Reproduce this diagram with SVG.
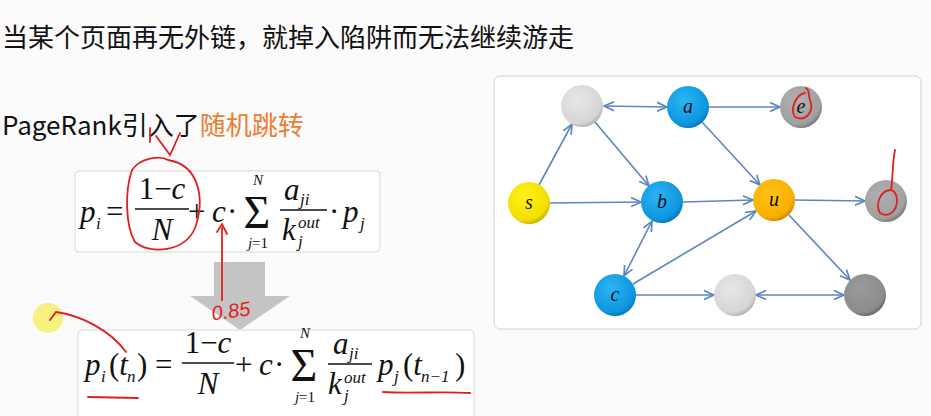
<svg xmlns="http://www.w3.org/2000/svg" width="931" height="416" viewBox="0 0 931 416">
<style>
.t{font-family:"Noto Sans CJK SC","Noto Sans",sans-serif;font-size:26px;fill:#111}
.m{font-family:"Liberation Serif",serif;font-size:31px;fill:#111}
.i{font-style:italic}
.s{font-size:17px}
.xs{font-size:15px}
.e{stroke:#5b86c2;stroke-width:1.6;fill:none;marker-end:url(#ah)}
.b{marker-start:url(#ahs)}
.fl{stroke:#111;stroke-width:1.5}
.lab{font-family:"Liberation Serif",serif;font-style:italic;font-size:20px;fill:#111;text-anchor:middle}
.red{stroke:#e02020;stroke-width:1.8;fill:none;stroke-linecap:round}
</style>
<defs>
<marker id="ah" viewBox="0 0 10 10" refX="9" refY="5" markerWidth="7" markerHeight="7" orient="auto"><path d="M0,1 L9,5 L0,9" fill="none" stroke="#5b86c2" stroke-width="1.5"/></marker>
<marker id="ahs" viewBox="0 0 10 10" refX="1" refY="5" markerWidth="7" markerHeight="7" orient="auto"><path d="M10,1 L1,5 L10,9" fill="none" stroke="#5b86c2" stroke-width="1.5"/></marker>
<radialGradient id="gb" cx="40%" cy="35%" r="70%"><stop offset="0" stop-color="#2eb4f5"/><stop offset="0.8" stop-color="#0c96de"/><stop offset="1" stop-color="#0a6fa8"/></radialGradient>
<radialGradient id="gy" cx="40%" cy="35%" r="70%"><stop offset="0" stop-color="#fff21a"/><stop offset="0.8" stop-color="#f2de00"/><stop offset="1" stop-color="#b8a800"/></radialGradient>
<radialGradient id="go" cx="40%" cy="35%" r="70%"><stop offset="0" stop-color="#ffc21a"/><stop offset="0.8" stop-color="#f9ae00"/><stop offset="1" stop-color="#c08000"/></radialGradient>
<radialGradient id="gl" cx="40%" cy="35%" r="70%"><stop offset="0" stop-color="#e6e6e6"/><stop offset="0.8" stop-color="#d6d6d6"/><stop offset="1" stop-color="#a8a8a8"/></radialGradient>
<radialGradient id="gm" cx="40%" cy="35%" r="70%"><stop offset="0" stop-color="#b0b0b0"/><stop offset="0.8" stop-color="#a0a0a0"/><stop offset="1" stop-color="#707070"/></radialGradient>
<radialGradient id="gd" cx="40%" cy="35%" r="70%"><stop offset="0" stop-color="#9a9a9a"/><stop offset="0.8" stop-color="#8c8c8c"/><stop offset="1" stop-color="#5e5e5e"/></radialGradient>
</defs>
<rect width="931" height="416" fill="#fbfbfb"/>
<text class="t" x="2" y="47">当某个页面再无外链，就掉入陷阱而无法继续游走</text>
<text class="t" x="2" y="135">PageRank引入了<tspan fill="#ed7d31">随机跳转</tspan></text>

<g id="formula1">
<rect x="75" y="171" width="305" height="81" rx="4" fill="#fff" stroke="#d8d8d8"/>
<text class="m i" x="80" y="222">p</text><text class="m i s" x="96" y="229">i</text>
<text class="m" x="106" y="222">=</text>
<text class="m" x="162" y="199" text-anchor="middle">1−<tspan class="i">c</tspan></text>
<line class="fl" x1="135" y1="209" x2="189" y2="209"/>
<text class="m i" x="162" y="240" text-anchor="middle">N</text>
<text class="m" x="188" y="222">+</text>
<text class="m i" x="212" y="222">c</text>
<text class="m" x="227" y="222">·</text>
<text x="257" y="228" text-anchor="middle" style="font-family:'Liberation Serif',serif;font-size:46px;fill:#111">Σ</text>
<text class="m i xs" x="258" y="185" text-anchor="middle">N</text>
<text class="m xs" x="258" y="248" text-anchor="middle"><tspan class="i">j</tspan>=1</text>
<text class="m i" x="284" y="200">a</text><text class="m i s" x="300" y="205">ji</text>
<line class="fl" x1="280" y1="210" x2="327" y2="210"/>
<text class="m i" x="282" y="240">k</text><text class="m i s" x="298" y="228">out</text><text class="m i s" x="298" y="247">j</text>
<text class="m" x="329" y="222">·</text>
<text class="m i" x="343" y="222">p</text><text class="m i s" x="360" y="229">j</text>
</g>

<g id="arrow">
<rect x="214" y="262" width="51" height="35" fill="#c4c4c4"/>
<polygon points="190,296 290,296 240,330" fill="#c4c4c4"/>
</g>

<g id="formula2">
<rect x="78" y="330" width="396" height="90" rx="4" fill="#fff" stroke="#d8d8d8"/>
<text class="m i" x="85" y="375">p</text><text class="m i s" x="101" y="382">i</text>
<text class="m" x="109" y="375">(<tspan class="i">t</tspan></text><text class="m i s" x="127" y="382">n</text><text class="m" x="137" y="375">)</text>
<text class="m" x="155" y="375">=</text>
<text class="m" x="208" y="353" text-anchor="middle">1−<tspan class="i">c</tspan></text>
<line class="fl" x1="182" y1="363" x2="234" y2="363"/>
<text class="m i" x="208" y="394" text-anchor="middle">N</text>
<text class="m" x="235" y="375">+</text>
<text class="m i" x="259" y="375">c</text>
<text class="m" x="274" y="375">·</text>
<text x="304" y="381" text-anchor="middle" style="font-family:'Liberation Serif',serif;font-size:46px;fill:#111">Σ</text>
<text class="m i xs" x="305" y="338" text-anchor="middle">N</text>
<text class="m xs" x="305" y="402" text-anchor="middle"><tspan class="i">j</tspan>=1</text>
<text class="m i" x="333" y="354">a</text><text class="m i s" x="349" y="359">ji</text>
<line class="fl" x1="328" y1="364" x2="372" y2="364"/>
<text class="m i" x="328" y="394">k</text><text class="m i s" x="344" y="383">out</text><text class="m i s" x="344" y="401">j</text>
<text class="m i" x="378" y="375">p</text><text class="m i s" x="394" y="382">j</text>
<text class="m" x="403" y="375">(<tspan class="i">t</tspan></text><text class="m i s" x="421" y="382">n−1</text><text class="m" x="455" y="375">)</text>
</g>

<g id="graph-frame"><rect x="494" y="76" width="427" height="253" rx="6" fill="#fff" stroke="#d0d0d0"/></g>

<g id="connectors">
<line class="e b" x1="604" y1="106" x2="667" y2="107"/>
<line class="e" x1="709" y1="107" x2="780" y2="107"/>
<line class="e" x1="539" y1="185" x2="572" y2="124"/>
<line class="e" x1="595" y1="122" x2="649" y2="186"/>
<line class="e" x1="550" y1="203" x2="641" y2="202"/>
<line class="e" x1="702" y1="122" x2="760" y2="185"/>
<line class="e" x1="683" y1="202" x2="753" y2="200"/>
<line class="e" x1="795" y1="200" x2="865" y2="201"/>
<line class="e" x1="789" y1="215" x2="850" y2="280"/>
<line class="e b" x1="652" y1="221" x2="624" y2="276"/>
<line class="e" x1="633" y1="284" x2="756" y2="211"/>
<line class="e" x1="636" y1="295" x2="714" y2="295"/>
<line class="e b" x1="756" y1="295" x2="844" y2="295"/>
</g>

<g id="n1"><circle cx="582" cy="106" r="21" fill="url(#gl)"/></g>
<g id="na"><circle cx="688" cy="107" r="21" fill="url(#gb)"/><text class="lab" x="688" y="113">a</text></g>
<g id="ne"><circle cx="801" cy="107" r="21" fill="url(#gm)"/><text class="lab" x="801" y="113">e</text></g>
<g id="ns"><circle cx="529" cy="203" r="21" fill="url(#gy)"/><text class="lab" x="529" y="209">s</text></g>
<g id="nb"><circle cx="662" cy="202" r="21" fill="url(#gb)"/><text class="lab" x="662" y="208">b</text></g>
<g id="nu"><circle cx="774" cy="200" r="21" fill="url(#go)"/><text class="lab" x="774" y="206">u</text></g>
<g id="nr"><circle cx="886" cy="201" r="21" fill="url(#gm)"/></g>
<g id="nc"><circle cx="615" cy="295" r="21" fill="url(#gb)"/><text class="lab" x="615" y="301">c</text></g>
<g id="nm"><circle cx="735" cy="295" r="21" fill="url(#gl)"/></g>
<g id="nd"><circle cx="865" cy="295" r="21" fill="url(#gd)"/></g>

<g id="annotations">
<circle cx="48" cy="318" r="15" fill="#f7ee60" opacity="0.8"/>
<path class="red" d="M150,128 L150,142 M156,136 L170,155 L180,133"/>
<path class="red" d="M168,160 C200,165 205,200 195,228 C185,252 150,255 135,242 C125,225 125,190 132,170 C140,158 160,155 168,160"/>
<path class="red" d="M222,300 L222,228 M217,232 L222,224 L227,234"/>
<text x="211" y="318" transform="rotate(-8 230 308)" style="font-family:'Liberation Sans',sans-serif;font-size:20px;font-style:italic;fill:#e02020">0.85</text>
<path class="red" d="M50,320 L56,312 C80,315 110,330 126,352"/>
<path class="red" d="M88,397 L138,398"/>
<path class="red" d="M383,392 C410,394 440,391 470,393"/>
<path class="red" d="M805,93 C795,95 790,110 795,117 C805,122 815,112 810,100 C808,95 810,90 806,88"/>
<path class="red" d="M895,150 C892,165 893,180 891,190 C880,190 875,205 880,213 C888,218 897,212 897,200 C897,193 893,190 891,190"/>
</g>
</svg>
